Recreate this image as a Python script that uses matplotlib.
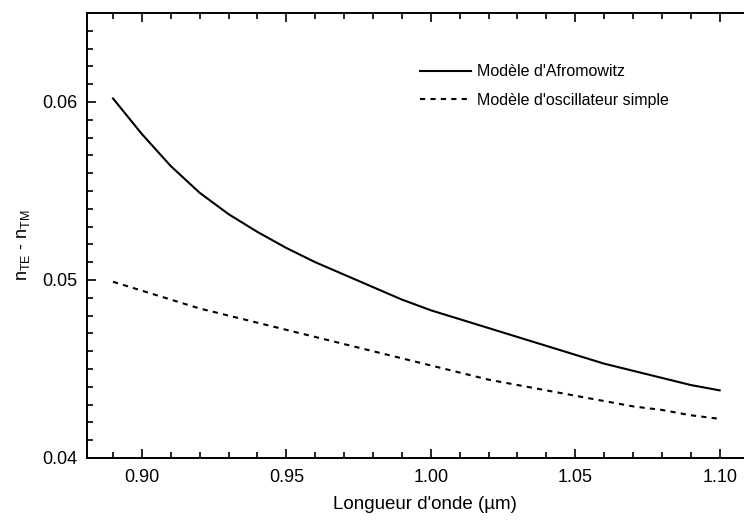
import matplotlib
matplotlib.use('Agg')
import matplotlib.pyplot as plt
from matplotlib.ticker import MultipleLocator, FormatStrFormatter

# ---------------- data ----------------
wavelength = [0.89, 0.90, 0.91, 0.92, 0.93, 0.94, 0.95, 0.96, 0.97, 0.98, 0.99,
              1.00, 1.01, 1.02, 1.03, 1.04, 1.05, 1.06, 1.07, 1.08, 1.09, 1.10]
dn_afro = [0.0602, 0.0582, 0.0564, 0.0549, 0.0537, 0.0527, 0.0518, 0.0510, 0.0503, 0.0496, 0.0489,
           0.0483, 0.0478, 0.0473, 0.0468, 0.0463, 0.0458, 0.0453, 0.0449, 0.0445, 0.0441, 0.0438]
dn_osc = [0.0499, 0.0494, 0.0489, 0.0484, 0.0480, 0.0476, 0.0472, 0.0468, 0.0464, 0.0460, 0.0456,
          0.0452, 0.0448, 0.0444, 0.0441, 0.0438, 0.0435, 0.0432, 0.0429, 0.0427, 0.0424, 0.0422]

label_afro = "Modèle d'Afromowitz"
label_osc = "Modèle d'oscillateur simple"

# ---------------- figure ----------------
plt.rcParams['font.family'] = ['Liberation Sans', 'DejaVu Sans']
plt.rcParams['font.size'] = 12

fig = plt.figure(figsize=(7.44, 5.25), dpi=100)
ax = fig.add_axes([87/744, 67/525, (763-87)/744, (458-13)/525])

ax.plot(wavelength, dn_afro, color='black', lw=1.5, label=label_afro)
ax.plot(wavelength, dn_osc, color='black', lw=1.5, ls=(0, (2.5, 2.5)), label=label_osc)

ax.set_xlim(0.881, 1.115)
ax.set_ylim(0.04, 0.065)
ax.xaxis.set_major_locator(MultipleLocator(0.05))
ax.xaxis.set_minor_locator(MultipleLocator(0.01))
ax.yaxis.set_major_locator(MultipleLocator(0.01))
ax.yaxis.set_minor_locator(MultipleLocator(0.001))
ax.xaxis.set_major_formatter(FormatStrFormatter('%.2f'))
ax.yaxis.set_major_formatter(FormatStrFormatter('%.2f'))

ax.tick_params(which='both', direction='in', top=True, right=False, width=1.2)
ax.tick_params(which='major', length=6.5, labelsize=13)
ax.tick_params(axis='x', which='major', pad=8)
ax.tick_params(axis='y', which='major', pad=7)
ax.tick_params(which='minor', length=4)
for s in ['left', 'bottom', 'top']:
    ax.spines[s].set_linewidth(1.4)
ax.spines['right'].set_visible(False)

ax.set_xlabel("Longueur d'onde (µm)", fontsize=13.5, labelpad=7)
ax.set_ylabel(r"n$_{\mathregular{TE}}$ - n$_{\mathregular{TM}}$", fontsize=13)
ax.yaxis.set_label_coords(-0.0814, 0.479)

ax.legend(loc='upper left', bbox_to_anchor=(406/744, 1 - 50/525),
          bbox_transform=fig.transFigure, frameon=False,
          handlelength=3.2, handletextpad=0.35, labelspacing=0.85,
          fontsize=11.5)

fig.savefig('out.png', dpi=100)
plt.close()
